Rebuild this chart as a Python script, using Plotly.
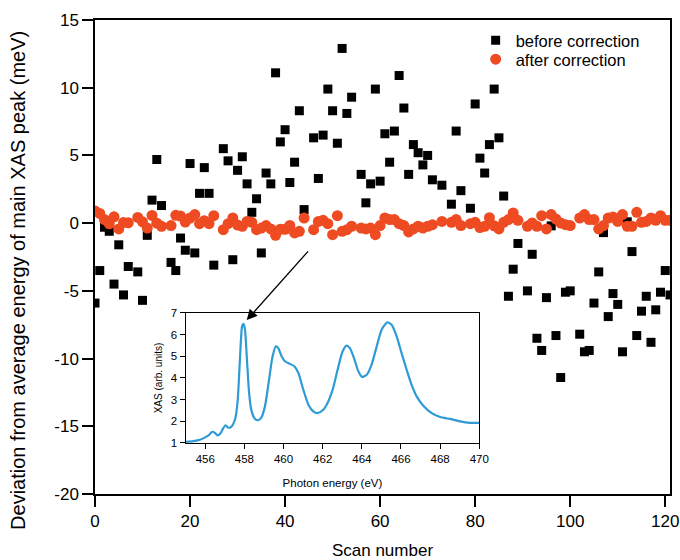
import plotly.graph_objects as go

# ---------------- data ----------------
scan = [0, 1, 2, 3, 4, 5, 6, 7, 9, 10, 11, 12, 13, 14, 16, 17, 18, 19, 20, 21, 22, 23, 24, 25,
        27, 28, 29, 30, 31, 32, 33, 34, 35, 36, 37, 38, 39, 40, 41, 42, 43, 44, 46, 47, 48, 49,
        50, 51, 52, 53, 54, 56, 57, 58, 59, 60, 61, 62, 63, 64, 65, 66, 67, 68, 69, 70, 71, 73,
        75, 76, 77, 79, 80, 81, 82, 83, 84, 85, 86, 87, 88, 89, 91, 92, 93, 94, 95, 96, 97, 98,
        99, 100, 102, 103, 104, 105, 106, 107, 108, 109, 110, 111, 112, 113, 114, 115, 116, 117,
        118, 119, 120, 121]

before = [-5.9, -3.5, -0.3, -0.6, -4.5, -1.6, -5.3, -3.2,
          -3.6, -5.7, -0.9, 1.7, 4.7, 1.3,
          -2.9, -3.5, -1.1, -2.0, 4.4, -2.2, 2.2, 4.1, 2.2, -3.1,
          5.5, 4.6, -2.7, 3.9, 4.9, 2.9, 0.8, 1.8, -2.2, 3.7, 2.9, 11.1, 6.0, 6.9, 3.0, 4.5, 8.3, 1.0,
          6.3, 3.3, 6.5, 9.9, 8.3, 5.9, 12.9, 8.1, 9.3,
          3.6, 1.5, 2.9, 9.9, 3.1, 6.6, 4.5, 6.8, 10.9, 8.5, 3.6, 5.8, 5.2, 4.3, 5.0, 3.2,
          2.8,
          1.4, 6.8, 2.4,
          1.1, 8.8, 4.8, 3.7, 5.8, 9.9, 6.3, 2.0, -5.4, -3.4, -1.5,
          -5.0, -2.3, -8.5, -9.4, -5.5, -0.2, -8.3, -11.4, -5.1, -5.0,
          -8.2, -9.5, -9.4, -5.9, -3.6, -0.7, -6.9, -5.2, -6.0, -9.5, 0.1, -2.1, -8.3, -6.5, -5.4,
          -8.8, -6.4, -5.1, -3.5, -5.3]

after = [0.9, 0.72, 0.26, -0.05, 0.47, -0.43, 0.05, 0.03,
         0.42, 0.1, -0.36, 0.57, 0.0, -0.23,
         -0.18, 0.58, 0.52, 0.08, 0.38, 0.63, -0.04, 0.18, -0.04, 0.55,
         -0.48, -0.04, 0.38, -0.14, -0.23, 0.13, 0.06, -0.48, -0.36, -0.18, -0.43, -0.9, -0.45,
         -0.45, -0.17, -0.72, -0.6, 0.38,
         -0.48, 0.13, 0.21, -0.04, -0.85, 0.55, -0.6, -0.48, -0.23,
         -0.36, -0.43, -0.36, -0.85, -0.18, 0.38, 0.26, 0.26, -0.04, -0.18, -0.65, -0.43, -0.23,
         -0.36, -0.23, -0.11,
         0.13,
         0.06, 0.26, -0.18,
         -0.04, 0.06, -0.33, -0.23, 0.4, -0.2, -0.43, 0.06, 0.26, 0.75, 0.21,
         -0.23, 0.01, -0.23, 0.55, -0.43, 0.63, 0.3, 0.01, -0.11, -0.18,
         0.38, 0.63, 0.26, 0.26, -0.43, -0.18, 0.38, 0.45, 0.13, 0.63, -0.23, -0.23, 0.8, 0.06,
         0.13, 0.38, 0.21, 0.55, 0.21, 0.21]

energy = [455.0, 455.4, 455.73, 455.99, 456.2, 456.36, 456.5, 456.63, 456.79, 456.92, 457.04,
          457.15, 457.26, 457.4, 457.54, 457.66, 457.78, 457.88, 457.95, 458.03, 458.13, 458.24,
          458.35, 458.51, 458.66, 458.85, 459.05, 459.26, 459.44, 459.61, 459.73, 459.9, 460.07,
          460.33, 460.55, 460.76, 461.01, 461.27, 461.52, 461.74, 462.0, 462.25, 462.51, 462.76,
          463.02, 463.22, 463.39, 463.6, 463.82, 464.02, 464.25, 464.5, 464.76, 465.01, 465.3,
          465.52, 465.78, 466.03, 466.29, 466.54, 466.8, 467.14, 467.57, 468.0, 468.5, 469.01,
          469.52, 470.0]
xas = [1.05, 1.09, 1.15, 1.26, 1.38, 1.52, 1.46, 1.35, 1.46, 1.69, 1.82,
       1.72, 1.71, 1.83, 2.15, 3.0, 5.0, 6.38, 6.5, 6.23, 4.85, 3.31,
       2.54, 2.15, 2.05, 2.15, 2.69, 3.92, 5.0, 5.46, 5.38, 5.0, 4.77,
       4.65, 4.54, 4.23, 3.46, 2.77, 2.46, 2.38, 2.51, 2.85, 3.46, 4.38,
       5.23, 5.49, 5.38, 4.92, 4.31, 4.05, 4.15, 4.62, 5.46, 6.23, 6.57,
       6.46, 5.92, 5.15, 4.38, 3.69, 3.15, 2.72, 2.38, 2.2, 2.11, 2.0,
       1.93, 1.93]

main_xticks = [0, 20, 40, 60, 80, 100, 120]
main_yticks = [15, 10, 5, 0, -5, -10, -15, -20]
main_yticktext = ["15", "10", "5", "0", "-5", "-10", "-15", "-20"]
inset_xticks = [456, 458, 460, 462, 464, 466, 468, 470]
inset_yticks = [1, 2, 3, 4, 5, 6, 7]

y_title = "Deviation from average energy of main XAS peak (meV)"

FONT = "Liberation Sans, Arial, Helvetica, sans-serif"

fig = go.Figure()
fig.add_trace(go.Scatter(x=scan, y=before, mode="markers", name="before correction",
                         marker=dict(symbol="square", size=9, color="black"), legend="legend"))
fig.add_trace(go.Scatter(x=scan, y=after, mode="markers", name="after correction",
                         marker=dict(symbol="circle", size=11, color="#EE4B22"), legend="legend2"))
fig.add_trace(go.Scatter(x=energy, y=xas, mode="lines", showlegend=False,
                         line=dict(color="#2E9BD6", width=2.2, shape="spline", smoothing=0.6),
                         xaxis="x2", yaxis="y2"))

# arrow pointing to the sharp L3 peak (highest point below 459 eV)
ipk = max((i for i in range(len(energy)) if energy[i] < 459), key=lambda i: xas[i])
fig.add_annotation(x=energy[ipk], y=xas[ipk], xref="x2", yref="y2", text="",
                   showarrow=True, arrowhead=2, arrowsize=1.6, arrowwidth=1.3,
                   arrowcolor="black", ax=66, ay=-74, standoff=5)

# main y-axis title (placed as in the reference, slightly below the axis centre)
fig.add_annotation(text=y_title, xref="paper", yref="paper", x=-0.134, y=0.4515,
                   xanchor="center", yanchor="middle", textangle=-90, showarrow=False,
                   font=dict(family=FONT, size=20, color="black"))

axis_common = dict(showline=True, linecolor="black", linewidth=1.5, mirror=True,
                   ticks="outside", tickcolor="black", tickwidth=1.5, ticklen=11,
                   showgrid=False, zeroline=False, automargin=False,
                   tickfont=dict(family=FONT, size=17, color="black"))

legend_common = dict(x=0.662, xanchor="left", yanchor="top", bgcolor="rgba(0,0,0,0)",
                     font=dict(family=FONT, size=16.5, color="black"), itemwidth=30)

fig.update_layout(
    width=680, height=560,
    margin=dict(l=95, r=10, t=20, b=66, autoexpand=False),
    paper_bgcolor="white", plot_bgcolor="white",
    font=dict(family=FONT, color="black"),
    xaxis=dict(range=[0, 121], tickvals=main_xticks,
               title=dict(text="Scan number", font=dict(family=FONT, size=17), standoff=14),
               **axis_common),
    yaxis=dict(range=[-20, 15], tickvals=main_yticks, ticktext=main_yticktext,
               **axis_common),
    xaxis2=dict(domain=[0.1577, 0.6683], anchor="y2", range=[455, 470], tickvals=inset_xticks,
                showline=True, linecolor="black", linewidth=1.2, mirror=True,
                ticks="outside", tickcolor="black", tickwidth=1.2, ticklen=5,
                showgrid=False, zeroline=False, automargin=False,
                tickfont=dict(family=FONT, size=11.5, color="black"),
                title=dict(text="Photon energy (eV)", font=dict(family=FONT, size=11.5), standoff=15)),
    yaxis2=dict(domain=[0.1076, 0.3819], anchor="x2", range=[1, 7], tickvals=inset_yticks,
                showline=True, linecolor="black", linewidth=1.2, mirror=True,
                ticks="outside", tickcolor="black", tickwidth=1.2, ticklen=5,
                showgrid=False, zeroline=False, automargin=False,
                tickfont=dict(family=FONT, size=11.5, color="black"),
                title=dict(text="XAS (arb. units)", font=dict(family=FONT, size=10), standoff=6)),
    legend=dict(y=0.9937, **legend_common),
    legend2=dict(y=0.9536, **legend_common),
    showlegend=True,
)

fig.write_html("out.html", config={"displayModeBar": False},
               post_script="document.body.style.margin='0';document.body.style.padding='0';")
